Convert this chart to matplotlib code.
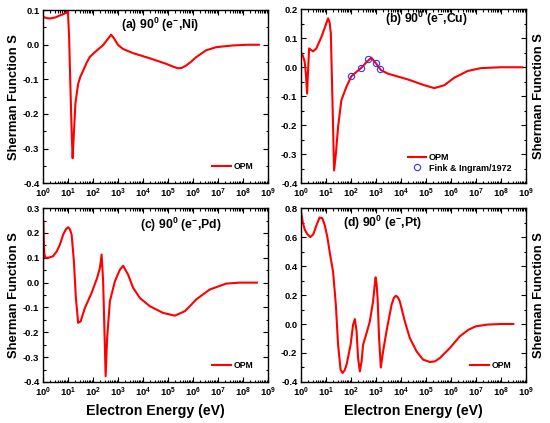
import numpy as np
import matplotlib.pyplot as plt
from matplotlib.ticker import FixedLocator, LogLocator, MultipleLocator, FuncFormatter, NullFormatter

plt.rcParams['font.family'] = ['Liberation Sans', 'DejaVu Sans']
plt.rcParams['font.weight'] = 'bold'
plt.rcParams['mathtext.fontset'] = 'custom'
plt.rcParams['mathtext.rm'] = 'Liberation Sans:bold'
plt.rcParams['mathtext.it'] = 'Liberation Sans:bold'
plt.rcParams['mathtext.bf'] = 'Liberation Sans:bold'

# log10(E / eV) and Sherman function
ni_logE = [0.0, 0.15, 0.3, 0.5, 0.65, 0.8, 0.95, 1.0, 1.05, 1.1, 1.15, 1.19, 1.23, 1.3, 1.41, 1.5, 1.61, 1.75,
           1.88, 2.1, 2.41, 2.6, 2.73, 2.85, 3.0, 3.2, 3.6, 4.27, 4.93, 5.2, 5.4, 5.55, 5.73, 5.93, 6.13,
           6.53, 6.93, 7.6, 8.2, 8.64]
ni_S = [0.081, 0.077, 0.076, 0.079, 0.084, 0.088, 0.093, 0.098, 0.02, -0.12, -0.25, -0.328, -0.27, -0.17, -0.113,
        -0.092, -0.075, -0.052, -0.035, -0.02, -0.001, 0.017, 0.029, 0.018, 0.0, -0.012, -0.024, -0.039,
        -0.055, -0.063, -0.068, -0.067, -0.060, -0.049, -0.036, -0.016, -0.007, -0.002, 0.0, 0.0]

cu_logE = [0.0, 0.08, 0.15, 0.2, 0.25, 0.29, 0.33, 0.4, 0.49, 0.62, 0.82, 0.95, 1.09, 1.15, 1.2, 1.26, 1.33,
           1.4, 1.49, 1.62, 1.82, 2.02, 2.42, 2.65, 2.82, 3.01, 3.21, 3.48, 4.28, 4.94, 5.34, 5.74, 6.14,
           6.67, 7.2, 8.0, 8.86]
cu_S = [0.051, 0.04, 0.02, -0.02, -0.091, -0.01, 0.065, 0.06, 0.055, 0.065, 0.104, 0.135, 0.169, 0.155,
        0.117, -0.1, -0.356, -0.3, -0.206, -0.114, -0.068, -0.031, -0.002, 0.02, 0.033, 0.013, -0.010,
        -0.022, -0.042, -0.062, -0.072, -0.062, -0.036, -0.013, -0.003, 0.0, 0.0]

# Fink & Ingram (1972) measured points for Cu
fink_E = [100, 250, 500, 1000, 1500]
fink_S = [-0.031, -0.002, 0.029, 0.014, -0.007]

pd_logE = [0.0, 0.01, 0.03, 0.06, 0.1, 0.15, 0.25, 0.4, 0.55, 0.68, 0.81, 0.92, 1.01, 1.08, 1.15, 1.24, 1.32,
           1.41, 1.51, 1.68, 1.95, 2.17, 2.28, 2.35, 2.41, 2.47, 2.51, 2.57, 2.68, 2.88, 3.08, 3.21, 3.41,
           3.61, 3.88, 4.28, 4.81, 5.28, 5.68, 5.88, 6.13, 6.67, 7.33, 7.87, 8.56]
pd_S = [-0.2, 0.25, 0.17, 0.115, 0.10, 0.10, 0.101, 0.106, 0.125, 0.153, 0.193, 0.215, 0.223, 0.215, 0.193,
        0.086, -0.062, -0.162, -0.156, -0.102, -0.041, 0.019, 0.059, 0.113, 0.005, -0.223, -0.377, -0.223,
        -0.075, 0.005, 0.052, 0.068, 0.032, -0.021, -0.062, -0.095, -0.122, -0.133, -0.115, -0.095, -0.068,
        -0.028, -0.004, 0.0, 0.0]

pt_logE = [0.0, 0.08, 0.16, 0.26, 0.38, 0.5, 0.62, 0.75, 0.86, 0.96, 1.06, 1.16, 1.29, 1.40, 1.49, 1.59,
           1.67, 1.75, 1.83, 1.99, 2.09, 2.16, 2.23, 2.29, 2.36, 2.43, 2.49, 2.63, 2.76, 2.89, 2.95, 2.99,
           3.03, 3.07, 3.13, 3.2, 3.29, 3.45, 3.63, 3.72, 3.8, 3.88, 3.96, 4.16, 4.36, 4.63, 4.89, 5.16,
           5.36, 5.56, 5.96, 6.36, 6.7, 7.0, 7.46, 8.0, 8.5]
pt_S = [0.78, 0.70, 0.65, 0.62, 0.60, 0.62, 0.68, 0.735, 0.73, 0.68, 0.6, 0.49, 0.36, 0.133, -0.143, -0.315,
        -0.338, -0.32, -0.28, -0.143, -0.005, 0.034, -0.05, -0.235, -0.327, -0.258, -0.143, -0.062, 0.018,
        0.156, 0.26, 0.322, 0.28, 0.179, -0.097, -0.3, -0.189, -0.028, 0.133, 0.18, 0.195, 0.185, 0.156,
        0.018, -0.097, -0.189, -0.246, -0.262, -0.258, -0.235, -0.166, -0.085, -0.04, -0.016, -0.004, 0.0, 0.0]

titles = ['(a) 90$^{0}$ (e$^{-}$,Ni)', '(b) 90$^{0}$ (e$^{-}$,Cu)',
          '(c) 90$^{0}$ (e$^{-}$,Pd)', '(d) 90$^{0}$ (e$^{-}$,Pt)']
ylims = [(-0.4, 0.1), (-0.4, 0.2), (-0.4, 0.3), (-0.4, 0.8)]
ysteps = [0.1, 0.1, 0.1, 0.2]
title_pos = [(0.347, 0.89), (0.373, 0.92), (0.43, 0.88), (0.187, 0.89)]
curves = [(ni_logE, ni_S), (cu_logE, cu_S), (pd_logE, pd_S), (pt_logE, pt_S)]

fig = plt.figure(figsize=(5.5, 4.23), dpi=100)
rects = [[0.078, 0.567, 0.409, 0.409], [0.547, 0.567, 0.409, 0.411],
         [0.078, 0.097, 0.409, 0.411], [0.547, 0.097, 0.409, 0.411]]

tick_font = 6.8

for i in range(4):
    ax = fig.add_axes(rects[i])
    logE, S = curves[i]
    E = 10 ** np.array(logE)
    line, = ax.plot(E, S, color='#ff0000', lw=1.5)
    handles = [line]
    names = ['OPM']
    if i == 1:
        pts, = ax.plot(fink_E, fink_S, ls='none', marker='o', ms=4.5, mfc='none', mec='#3333ff', mew=0.8)
        handles.append(pts)
        names.append('Fink & Ingram/1972')

    ax.set_xscale('log')
    ax.set_xlim(1, 1e9)
    ax.set_ylim(*ylims[i])
    ax.xaxis.set_major_locator(FixedLocator([10.0 ** k for k in range(10)]))
    ax.xaxis.set_minor_locator(LogLocator(base=10, subs=np.arange(2, 10), numticks=20))
    ax.xaxis.set_minor_formatter(NullFormatter())
    ax.xaxis.set_major_formatter(FuncFormatter(lambda v, p: '$10^{%d}$' % int(round(np.log10(v)))))
    ax.yaxis.set_major_locator(MultipleLocator(ysteps[i]))
    ax.yaxis.set_minor_locator(MultipleLocator(ysteps[i] / 2))
    ax.yaxis.set_major_formatter(FuncFormatter(lambda v, p: '%.1f' % v if abs(v) > 1e-9 else '0.0'))
    ax.tick_params(which='both', direction='in', top=True, right=True, labelsize=tick_font, width=0.8)
    ax.tick_params(which='major', length=3.5, pad=2.5)
    ax.tick_params(which='minor', length=1.8)
    for sp in ax.spines.values():
        sp.set_linewidth(1.0)

    ax.text(title_pos[i][0], title_pos[i][1], titles[i], transform=ax.transAxes,
            fontsize=8.8, fontweight='bold', va='baseline', ha='left')

    if i == 1:
        ax.legend(handles, names, loc='lower right', bbox_to_anchor=(0.955, 0.035), frameon=False,
                  fontsize=6.5, handlelength=2.0, handletextpad=0.3, labelspacing=0.2, borderpad=0)
    else:
        ax.legend(handles, names, loc='lower right', bbox_to_anchor=(0.955, 0.045), frameon=False,
                  fontsize=6.2, handlelength=2.2, handletextpad=0.3, borderpad=0)

    if i % 2 == 0:
        ax.set_ylabel('Sherman Function S', fontsize=9.4, fontweight='bold', labelpad=2)
    else:
        ax.yaxis.set_label_position('right')
        ax.set_ylabel('Sherman Function S', fontsize=9.4, fontweight='bold', labelpad=5, rotation=90)
    if i >= 2:
        ax.set_xlabel('Electron Energy (eV)', fontsize=10.2, fontweight='bold', labelpad=4)

plt.savefig('out.png', dpi=100)
